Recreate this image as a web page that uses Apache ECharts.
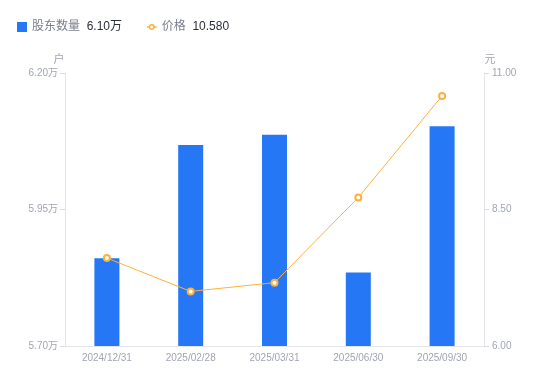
<!DOCTYPE html>
<html>
<head>
<meta charset="utf-8">
<script src="https://cdn.jsdelivr.net/npm/echarts@6/dist/echarts.min.js"></script>
<style>
  html, body { margin: 0; padding: 0; background: #fff; }
  #chart { width: 550px; height: 381px; }
</style>
</head>
<body>
<div id="chart"></div>
<script>
// report dates, holder count (households), share price (yuan)
const dates = ['2024/12/31', '2025/02/28', '2025/03/31', '2025/06/30', '2025/09/30'];
const holders = [58608, 60680, 60870, 58345, 61025];
const prices = [7.61, 7.00, 7.16, 8.72, 10.58];

const leftTicks = { min: 57000, max: 62000, interval: 2500 };
const rightTicks = { min: 6, max: 11, interval: 2.5 };

const font = 'Liberation Sans, "Noto Sans CJK SC", sans-serif';
const labelGray = '#a1a5b1';
const lineGray = '#e3e5ea';
const barBlue = '#2577f5';
const lineOrange = '#fcb13e';

const lastHolders = (holders[holders.length - 1] / 10000).toFixed(2) + '万';
const lastPrice = prices[prices.length - 1].toFixed(3);

// small line with a ring in the middle, for the price legend
const lineIcon = 'path://M0 5H3M8 5H11M8 5A2.5 2.5 0 1 1 3 5A2.5 2.5 0 1 1 8 5';

const chart = echarts.init(document.getElementById('chart'));

chart.setOption({
  animation: false,
  textStyle: { fontFamily: font },
  legend: {
    left: 12,
    top: 16,
    itemWidth: 10,
    itemHeight: 10,
    itemGap: 24,
    data: [
      { name: '股东数量', icon: 'rect' },
      {
        name: '价格',
        icon: lineIcon,
        itemStyle: { color: '#fff', borderColor: lineOrange, borderWidth: 1.5 }
      }
    ],
    formatter: name => name === '股东数量'
      ? `{n|${name}}  {v|${lastHolders}}`
      : `{n|${name}}  {v|${lastPrice}}`,
    textStyle: {
      rich: {
        n: { fontSize: 12, color: '#7b7f8b', fontFamily: font },
        v: { fontSize: 12, color: '#2b2f3a', fontFamily: font }
      }
    }
  },
  grid: { left: 65, right: 66, top: 73, bottom: 35 },
  xAxis: {
    type: 'category',
    data: dates,
    axisLine: { lineStyle: { color: lineGray } },
    axisTick: { show: false },
    axisLabel: { color: labelGray, fontSize: 10, margin: 7 }
  },
  yAxis: [
    {
      type: 'value',
      name: '户',
      nameTextStyle: { color: labelGray, fontSize: 11, padding: [0, 12, 0, 0] },
      nameGap: 8,
      min: leftTicks.min,
      max: leftTicks.max,
      interval: leftTicks.interval,
      axisLine: { show: true, lineStyle: { color: lineGray } },
      axisTick: { show: true, length: 5, lineStyle: { color: '#d8dbe2' } },
      splitLine: { show: false },
      axisLabel: {
        color: labelGray,
        fontSize: 10,
        margin: 7,
        formatter: v => (v / 10000).toFixed(2) + '万'
      }
    },
    {
      type: 'value',
      name: '元',
      nameTextStyle: { color: labelGray, fontSize: 11, padding: [0, 0, 0, 12] },
      nameGap: 8,
      min: rightTicks.min,
      max: rightTicks.max,
      interval: rightTicks.interval,
      axisLine: { show: true, lineStyle: { color: lineGray } },
      axisTick: { show: true, length: 5, lineStyle: { color: '#d8dbe2' } },
      splitLine: { show: false },
      axisLabel: {
        color: labelGray,
        fontSize: 10,
        margin: 8,
        formatter: v => v.toFixed(2)
      }
    }
  ],
  series: [
    {
      name: '股东数量',
      type: 'bar',
      yAxisIndex: 0,
      data: holders,
      barWidth: 25,
      itemStyle: { color: barBlue }
    },
    {
      name: '价格',
      type: 'line',
      yAxisIndex: 1,
      data: prices,
      symbol: 'emptyCircle',
      symbolSize: 6,
      itemStyle: { color: lineOrange, borderWidth: 2 },
      lineStyle: { color: lineOrange, width: 1 }
    }
  ]
});
</script>
</body>
</html>
